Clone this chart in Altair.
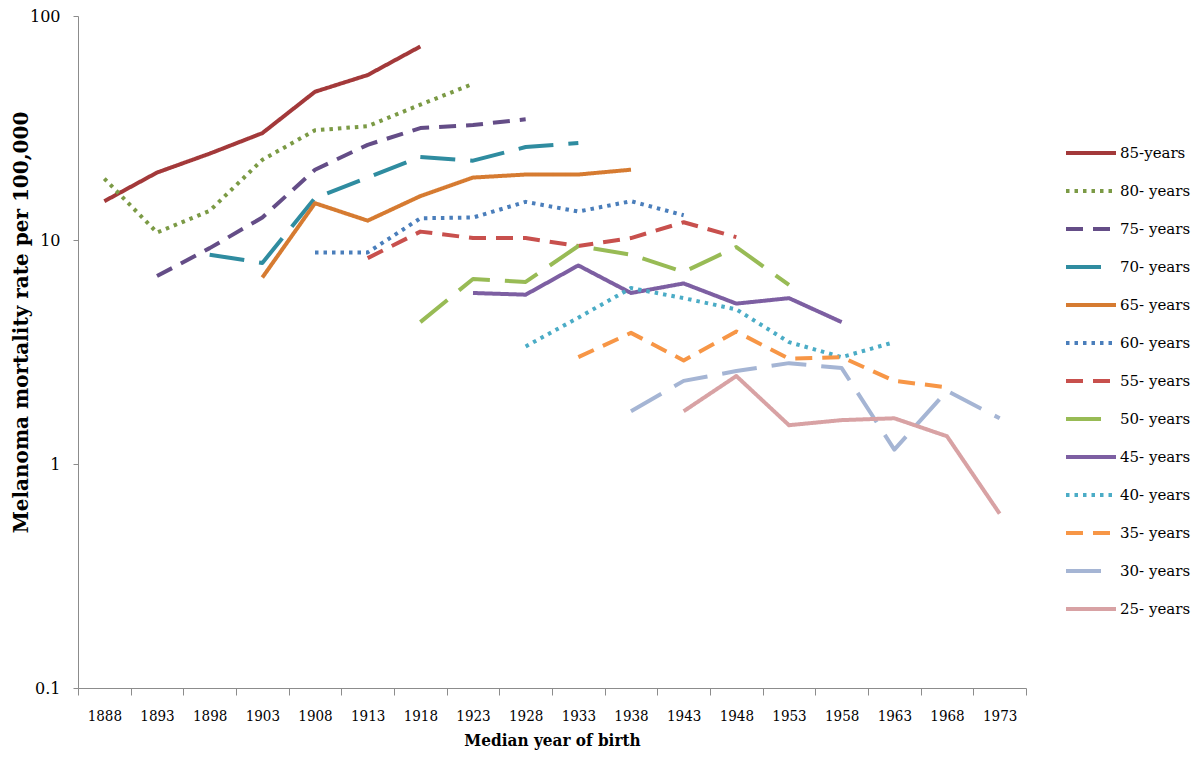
import altair as alt
import pandas as pd

years = ["1888", "1893", "1898", "1903", "1908", "1913", "1918", "1923", "1928",
         "1933", "1938", "1943", "1948", "1953", "1958", "1963", "1968", "1973"]

series_names = ["85-years", "80- years", "75- years", "70- years", "65- years",
                "60- years", "55- years", "50- years", "45- years", "40- years",
                "35- years", "30- years", "25- years"]

# first year of each series and its values
start_year = {
    "85-years": "1888", "80- years": "1888", "75- years": "1893", "70- years": "1898",
    "65- years": "1903", "60- years": "1908", "55- years": "1913", "50- years": "1918",
    "45- years": "1923", "40- years": "1928", "35- years": "1933", "30- years": "1938",
    "25- years": "1943",
}
values = {
    "85-years": [14.9, 20.0, 24.3, 30.0, 45.9, 54.5, 73.1],
    "80- years": [18.8, 10.8, 13.5, 22.8, 30.9, 32.2, 40.2, 49.8],
    "75- years": [6.9, 9.2, 12.6, 20.6, 26.6, 31.6, 32.6, 34.6],
    "70- years": [8.6, 7.9, 15.4, 19.0, 23.5, 22.6, 26.0, 27.1],
    "65- years": [6.8, 14.6, 12.2, 15.7, 19.0, 19.6, 19.6, 20.6],
    "60- years": [8.8, 8.8, 12.5, 12.6, 14.8, 13.4, 14.9, 12.9],
    "55- years": [8.3, 10.9, 10.2, 10.2, 9.4, 10.2, 12.0, 10.3],
    "50- years": [4.3, 6.7, 6.5, 9.4, 8.6, 7.2, 9.3, 6.3],
    "45- years": [5.8, 5.7, 7.7, 5.8, 6.4, 5.2, 5.5, 4.3],
    "40- years": [3.35, 4.5, 6.1, 5.5, 4.9, 3.5, 3.0, 3.5],
    "35- years": [3.0, 3.85, 2.9, 3.9, 2.95, 3.0, 2.35, 2.2],
    "30- years": [1.72, 2.35, 2.6, 2.82, 2.68, 1.16, 2.12, 1.6],
    "25- years": [1.72, 2.47, 1.49, 1.57, 1.6, 1.33, 0.6],
}

colors = ["#A3393A", "#7B9A45", "#644D87", "#2F8CA0", "#D67B31", "#4A7EBB",
          "#C8504D", "#98BB55", "#7D5FA2", "#4BACC6", "#F79646", "#A5B5D4", "#D8A2A4"]

solid = [1, 0]
dotted = [3.5, 5]
dashed = [17, 10]
longdash = [35, 15]
dashes = [solid, dotted, dashed, longdash, solid, dotted, dashed, longdash,
          solid, dotted, dashed, longdash, solid]

rows = []
for name in series_names:
    i0 = years.index(start_year[name])
    for k, v in enumerate(values[name]):
        rows.append({"series": name, "year": years[i0 + k], "rate": v})
df = pd.DataFrame(rows)

legend_cfg = dict(
    title=None, orient="none", legendX=986, legendY=110,
    symbolType="stroke", symbolSize=2500, symbolStrokeWidth=4,
    labelFont="DejaVu Serif", labelFontSize=15, labelColor="#000000",
    rowPadding=3, labelOffset=2, labelLimit=200,
)

chart = alt.Chart(df).mark_line(strokeWidth=4, strokeCap="butt", strokeJoin="round").encode(
    x=alt.X("year:N", sort=years, bandPosition=0.5,
            scale=alt.Scale(type="band", domain=years, paddingInner=0, paddingOuter=0),
            axis=alt.Axis(title="Median year of birth", labelAngle=0, tickBand="extent",
                          domainColor="#8C8C8C", tickColor="#8C8C8C", tickSize=7,
                          labelPadding=13, labelFont="DejaVu Serif Condensed",
                          labelFontSize=15, labelColor="#000000",
                          titleFont="DejaVu Serif Condensed", titleFontSize=17,
                          titleFontWeight="bold", titleColor="#000000",
                          titleY=52, titleBaseline="middle", grid=False)),
    y=alt.Y("rate:Q",
            scale=alt.Scale(type="log", domain=[0.1, 100], nice=False),
            axis=alt.Axis(title="Melanoma mortality rate per 100,000",
                          values=[0.1, 1, 10, 100], format="~g",
                          domainColor="#8C8C8C", tickColor="#8C8C8C", tickSize=5,
                          labelPadding=13, labelFont="DejaVu Serif", labelFontSize=16,
                          labelColor="#000000",
                          titleFont="DejaVu Serif", titleFontSize=20,
                          titleFontWeight="bold", titleColor="#000000",
                          titleX=-57, titleY=306, titleAngle=270,
                          titleAlign="center", titleBaseline="middle", grid=False)),
    color=alt.Color("series:N", sort=series_names,
                    scale=alt.Scale(domain=series_names, range=colors),
                    legend=alt.Legend(**legend_cfg)),
    strokeDash=alt.StrokeDash("series:N", sort=series_names,
                              scale=alt.Scale(domain=series_names, range=dashes),
                              legend=alt.Legend(**legend_cfg)),
    detail="series:N",
).properties(
    width=948, height=672,
    autosize=alt.AutoSizeParams(type="none"),
    padding={"left": 70, "top": 8, "right": 166, "bottom": 62},
).configure_view(stroke=None)

chart.save("out.html", embed_options={"renderer": "svg", "actions": False})
